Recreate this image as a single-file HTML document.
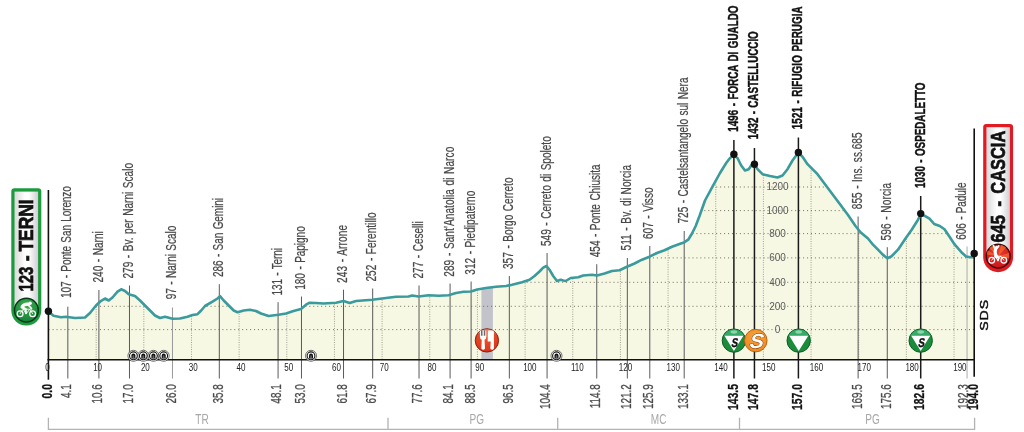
<!DOCTYPE html>
<html lang="it"><head><meta charset="utf-8"><title>Terni - Cascia</title>
<style>html,body{margin:0;padding:0;background:#fff}svg{display:block;font-family:"Liberation Sans",sans-serif;will-change:transform}</style></head><body>
<svg width="1024" height="432" viewBox="0 0 1024 432">
<defs>
<clipPath id="fillclip"><polygon points="48.25,359.75 48.5,311.5 53.5,315.8 61,317.2 66,316.7 75,318 85,317.5 90,313 96,305.5 100,301.7 105,298.5 108.7,300.5 112.5,297.5 117.5,291.7 121.2,289.3 125,291 128.7,294.2 135,296 140,300.5 145,305.5 150,310.5 155,315.5 160,318 165,316.7 172.5,318.7 180,318.5 187.5,316.7 192.5,315 197.5,314.2 201.2,310.5 205,306 212.5,301.7 217.5,298.5 220,296.2 223.7,300.5 228.7,305.5 233.7,310.5 237.5,312.2 243.7,310.5 250,309.7 256,311 261,313.5 268.5,316 278.5,314.7 286,313.5 293.5,311 301,309 306,304.7 309.7,302.7 316,303 323.5,303.5 336,302.7 343.5,301 349.7,303 356,301 372.2,299.7 386,298 396,296.7 408.5,296.5 412.2,295.5 418.5,296.5 428.5,295.2 438.5,295.7 448.5,295.2 456,293 463.5,291.7 471,291.5 477.2,289.5 486,288 496,286.7 506,286 512,284.7 522,282.2 529.5,279.7 534.5,276 539.5,271.5 543.2,267.7 546.5,266 549.5,269.7 553.2,276 557,281 560.7,279.7 563.2,280.5 565.7,281 570.7,278 578.2,277.2 583.2,275.5 592,274.7 597,275.5 604.5,273.5 612,271 619.5,270.2 627,266.7 634.5,263.5 642,259.7 649.5,256.7 657,253 664.5,250.2 672,246.7 679.5,244 684.5,242.2 688.2,239.7 692,233.5 695.7,226 699.5,216 705,200.5 712.5,186.7 720,173 726.2,163 730,158 733.7,155.5 737.5,158 741.2,165.5 745,170.5 748.7,169.2 751.2,165.5 754.5,164.2 757.5,169.2 762.5,174.2 770,176 777.5,177.5 782.5,175.5 787.5,169.2 792.5,160.5 796.2,155.5 798.7,153 802.5,156.7 807.5,164.2 812.5,169.2 817.5,174.2 825,184.2 832.5,194.2 840,204.2 848,215 855.5,226 860.5,232.2 868,238.5 873,244.7 878,249.7 883,254.9 887.3,258.2 891.7,256.2 898,249.7 905.5,238.5 911.7,229.7 918,219.7 920.6,215 924.8,215.8 929.5,218.6 934.2,224 939.8,226 944.5,229.2 949.2,236.2 954.8,244.7 961.4,252.2 966.1,256.5 970.7,257.3 974,257.3 975.1819999999999,359.75"/></clipPath>
<linearGradient id="pillg" x1="0" x2="1" y1="0" y2="0"><stop offset="0" stop-color="#d9d9db"/><stop offset="0.45" stop-color="#ffffff"/><stop offset="0.6" stop-color="#ffffff"/><stop offset="1" stop-color="#cfcfd2"/></linearGradient>
<radialGradient id="gg" cx="0.5" cy="0.3" r="0.7"><stop offset="0" stop-color="#3fae49"/><stop offset="1" stop-color="#15803a"/></radialGradient>
<radialGradient id="rg" cx="0.5" cy="0.3" r="0.7"><stop offset="0" stop-color="#ee5a2e"/><stop offset="1" stop-color="#d9331a"/></radialGradient>
<radialGradient id="og" cx="0.5" cy="0.3" r="0.7"><stop offset="0" stop-color="#f7a03c"/><stop offset="1" stop-color="#f08a1e"/></radialGradient>
<radialGradient id="rg2" cx="0.5" cy="0.3" r="0.7"><stop offset="0" stop-color="#ea3a30"/><stop offset="1" stop-color="#c8161c"/></radialGradient>
</defs>
<rect width="1024" height="432" fill="#fff"/>
<polygon points="48.25,359.75 48.5,311.5 53.5,315.8 61,317.2 66,316.7 75,318 85,317.5 90,313 96,305.5 100,301.7 105,298.5 108.7,300.5 112.5,297.5 117.5,291.7 121.2,289.3 125,291 128.7,294.2 135,296 140,300.5 145,305.5 150,310.5 155,315.5 160,318 165,316.7 172.5,318.7 180,318.5 187.5,316.7 192.5,315 197.5,314.2 201.2,310.5 205,306 212.5,301.7 217.5,298.5 220,296.2 223.7,300.5 228.7,305.5 233.7,310.5 237.5,312.2 243.7,310.5 250,309.7 256,311 261,313.5 268.5,316 278.5,314.7 286,313.5 293.5,311 301,309 306,304.7 309.7,302.7 316,303 323.5,303.5 336,302.7 343.5,301 349.7,303 356,301 372.2,299.7 386,298 396,296.7 408.5,296.5 412.2,295.5 418.5,296.5 428.5,295.2 438.5,295.7 448.5,295.2 456,293 463.5,291.7 471,291.5 477.2,289.5 486,288 496,286.7 506,286 512,284.7 522,282.2 529.5,279.7 534.5,276 539.5,271.5 543.2,267.7 546.5,266 549.5,269.7 553.2,276 557,281 560.7,279.7 563.2,280.5 565.7,281 570.7,278 578.2,277.2 583.2,275.5 592,274.7 597,275.5 604.5,273.5 612,271 619.5,270.2 627,266.7 634.5,263.5 642,259.7 649.5,256.7 657,253 664.5,250.2 672,246.7 679.5,244 684.5,242.2 688.2,239.7 692,233.5 695.7,226 699.5,216 705,200.5 712.5,186.7 720,173 726.2,163 730,158 733.7,155.5 737.5,158 741.2,165.5 745,170.5 748.7,169.2 751.2,165.5 754.5,164.2 757.5,169.2 762.5,174.2 770,176 777.5,177.5 782.5,175.5 787.5,169.2 792.5,160.5 796.2,155.5 798.7,153 802.5,156.7 807.5,164.2 812.5,169.2 817.5,174.2 825,184.2 832.5,194.2 840,204.2 848,215 855.5,226 860.5,232.2 868,238.5 873,244.7 878,249.7 883,254.9 887.3,258.2 891.7,256.2 898,249.7 905.5,238.5 911.7,229.7 918,219.7 920.6,215 924.8,215.8 929.5,218.6 934.2,224 939.8,226 944.5,229.2 949.2,236.2 954.8,244.7 961.4,252.2 966.1,256.5 970.7,257.3 974,257.3 975.1819999999999,359.75" fill="#f6f8e3"/>
<g clip-path="url(#fillclip)">
<rect x="481.4" y="200" width="11.5" height="170" fill="#c3c3cb"/>
<line x1="48.6" x2="975" y1="329.60" y2="329.60" stroke="#66665a" stroke-width="0.9" stroke-dasharray="1.05 2.9"/>
<line x1="48.6" x2="975" y1="306.30" y2="306.30" stroke="#66665a" stroke-width="0.9" stroke-dasharray="1.05 2.9"/>
<line x1="48.6" x2="975" y1="282.30" y2="282.30" stroke="#66665a" stroke-width="0.9" stroke-dasharray="1.05 2.9"/>
<line x1="48.6" x2="975" y1="257.90" y2="257.90" stroke="#66665a" stroke-width="0.9" stroke-dasharray="1.05 2.9"/>
<line x1="48.6" x2="975" y1="233.60" y2="233.60" stroke="#66665a" stroke-width="0.9" stroke-dasharray="1.05 2.9"/>
<line x1="48.6" x2="975" y1="210.60" y2="210.60" stroke="#66665a" stroke-width="0.9" stroke-dasharray="1.05 2.9"/>
<line x1="48.6" x2="975" y1="187.00" y2="187.00" stroke="#66665a" stroke-width="0.9" stroke-dasharray="1.05 2.9"/>
<line x1="96.16" x2="96.16" y1="100" y2="359.75" stroke="#858574" stroke-width="0.8" stroke-dasharray="0.95 1.4"/>
<line x1="143.82" x2="143.82" y1="100" y2="359.75" stroke="#858574" stroke-width="0.8" stroke-dasharray="0.95 1.4"/>
<line x1="191.48" x2="191.48" y1="100" y2="359.75" stroke="#858574" stroke-width="0.8" stroke-dasharray="0.95 1.4"/>
<line x1="239.14" x2="239.14" y1="100" y2="359.75" stroke="#858574" stroke-width="0.8" stroke-dasharray="0.95 1.4"/>
<line x1="286.80" x2="286.80" y1="100" y2="359.75" stroke="#858574" stroke-width="0.8" stroke-dasharray="0.95 1.4"/>
<line x1="334.46" x2="334.46" y1="100" y2="359.75" stroke="#858574" stroke-width="0.8" stroke-dasharray="0.95 1.4"/>
<line x1="382.12" x2="382.12" y1="100" y2="359.75" stroke="#858574" stroke-width="0.8" stroke-dasharray="0.95 1.4"/>
<line x1="429.78" x2="429.78" y1="100" y2="359.75" stroke="#858574" stroke-width="0.8" stroke-dasharray="0.95 1.4"/>
<line x1="477.44" x2="477.44" y1="100" y2="359.75" stroke="#858574" stroke-width="0.8" stroke-dasharray="0.95 1.4"/>
<line x1="525.10" x2="525.10" y1="100" y2="359.75" stroke="#858574" stroke-width="0.8" stroke-dasharray="0.95 1.4"/>
<line x1="572.76" x2="572.76" y1="100" y2="359.75" stroke="#858574" stroke-width="0.8" stroke-dasharray="0.95 1.4"/>
<line x1="620.42" x2="620.42" y1="100" y2="359.75" stroke="#858574" stroke-width="0.8" stroke-dasharray="0.95 1.4"/>
<line x1="668.08" x2="668.08" y1="100" y2="359.75" stroke="#858574" stroke-width="0.8" stroke-dasharray="0.95 1.4"/>
<line x1="715.74" x2="715.74" y1="100" y2="359.75" stroke="#858574" stroke-width="0.8" stroke-dasharray="0.95 1.4"/>
<line x1="763.40" x2="763.40" y1="100" y2="359.75" stroke="#858574" stroke-width="0.8" stroke-dasharray="0.95 1.4"/>
<line x1="811.06" x2="811.06" y1="100" y2="359.75" stroke="#858574" stroke-width="0.8" stroke-dasharray="0.95 1.4"/>
<line x1="858.72" x2="858.72" y1="100" y2="359.75" stroke="#858574" stroke-width="0.8" stroke-dasharray="0.95 1.4"/>
<line x1="906.38" x2="906.38" y1="100" y2="359.75" stroke="#858574" stroke-width="0.8" stroke-dasharray="0.95 1.4"/>
<line x1="954.04" x2="954.04" y1="100" y2="359.75" stroke="#858574" stroke-width="0.8" stroke-dasharray="0.95 1.4"/>
</g>
<text transform="translate(777.5 332.80) scale(1.0 1)" font-size="10" text-anchor="middle" fill="#5c5c5c">0</text>
<text transform="translate(777.5 309.50) scale(1.0 1)" font-size="10" text-anchor="middle" fill="#5c5c5c">200</text>
<text transform="translate(777.5 285.50) scale(1.0 1)" font-size="10" text-anchor="middle" fill="#5c5c5c">400</text>
<text transform="translate(777.5 261.10) scale(1.0 1)" font-size="10" text-anchor="middle" fill="#5c5c5c">600</text>
<text transform="translate(777.5 236.80) scale(1.0 1)" font-size="10" text-anchor="middle" fill="#5c5c5c">800</text>
<text transform="translate(777.5 213.80) scale(1.0 1)" font-size="10" text-anchor="middle" fill="#5c5c5c">1000</text>
<text transform="translate(777.5 190.20) scale(1.0 1)" font-size="10" text-anchor="middle" fill="#5c5c5c">1200</text>
<line x1="67.84" x2="67.84" y1="306.7" y2="378.5" stroke="#5a5a5a" stroke-width="1"/>
<line x1="98.90" x2="98.90" y1="290" y2="378.5" stroke="#5a5a5a" stroke-width="1"/>
<line x1="129.48" x2="129.48" y1="285.5" y2="378.5" stroke="#5a5a5a" stroke-width="1"/>
<line x1="172.48" x2="172.48" y1="307.5" y2="378.5" stroke="#999" stroke-width="1"/>
<line x1="219.30" x2="219.30" y1="284.2" y2="378.5" stroke="#5a5a5a" stroke-width="1"/>
<line x1="278.07" x2="278.07" y1="302.2" y2="378.5" stroke="#5a5a5a" stroke-width="1"/>
<line x1="301.48" x2="301.48" y1="296.5" y2="378.5" stroke="#5a5a5a" stroke-width="1"/>
<line x1="343.53" x2="343.53" y1="289.7" y2="378.5" stroke="#5a5a5a" stroke-width="1"/>
<line x1="372.68" x2="372.68" y1="288.5" y2="378.5" stroke="#5a5a5a" stroke-width="1"/>
<line x1="419.02" x2="419.02" y1="285.5" y2="378.5" stroke="#5a5a5a" stroke-width="1"/>
<line x1="450.08" x2="450.08" y1="283.5" y2="378.5" stroke="#5a5a5a" stroke-width="1"/>
<line x1="471.10" x2="471.10" y1="281.5" y2="378.5" stroke="#5a5a5a" stroke-width="1"/>
<line x1="509.33" x2="509.33" y1="276" y2="378.5" stroke="#5a5a5a" stroke-width="1"/>
<line x1="547.07" x2="547.07" y1="253" y2="378.5" stroke="#5a5a5a" stroke-width="1"/>
<line x1="596.76" x2="596.76" y1="264.2" y2="378.5" stroke="#5a5a5a" stroke-width="1"/>
<line x1="627.34" x2="627.34" y1="258" y2="378.5" stroke="#5a5a5a" stroke-width="1"/>
<line x1="649.80" x2="649.80" y1="246" y2="378.5" stroke="#5a5a5a" stroke-width="1"/>
<line x1="684.20" x2="684.20" y1="231" y2="378.5" stroke="#5a5a5a" stroke-width="1"/>
<line x1="733.89" x2="733.89" y1="140" y2="378.5" stroke="#1a1a1a" stroke-width="1.5"/>
<line x1="754.44" x2="754.44" y1="148" y2="378.5" stroke="#1a1a1a" stroke-width="1.5"/>
<line x1="798.40" x2="798.40" y1="137.5" y2="378.5" stroke="#1a1a1a" stroke-width="1.5"/>
<line x1="858.12" x2="858.12" y1="216.5" y2="378.5" stroke="#5a5a5a" stroke-width="1"/>
<line x1="887.27" x2="887.27" y1="247.2" y2="378.5" stroke="#5a5a5a" stroke-width="1"/>
<line x1="920.71" x2="920.71" y1="196" y2="378.5" stroke="#1a1a1a" stroke-width="1.5"/>
<line x1="967.06" x2="967.06" y1="246.5" y2="378.5" stroke="#aaa" stroke-width="1"/>
<polyline points="48.5,311.5 53.5,315.8 61,317.2 66,316.7 75,318 85,317.5 90,313 96,305.5 100,301.7 105,298.5 108.7,300.5 112.5,297.5 117.5,291.7 121.2,289.3 125,291 128.7,294.2 135,296 140,300.5 145,305.5 150,310.5 155,315.5 160,318 165,316.7 172.5,318.7 180,318.5 187.5,316.7 192.5,315 197.5,314.2 201.2,310.5 205,306 212.5,301.7 217.5,298.5 220,296.2 223.7,300.5 228.7,305.5 233.7,310.5 237.5,312.2 243.7,310.5 250,309.7 256,311 261,313.5 268.5,316 278.5,314.7 286,313.5 293.5,311 301,309 306,304.7 309.7,302.7 316,303 323.5,303.5 336,302.7 343.5,301 349.7,303 356,301 372.2,299.7 386,298 396,296.7 408.5,296.5 412.2,295.5 418.5,296.5 428.5,295.2 438.5,295.7 448.5,295.2 456,293 463.5,291.7 471,291.5 477.2,289.5 486,288 496,286.7 506,286 512,284.7 522,282.2 529.5,279.7 534.5,276 539.5,271.5 543.2,267.7 546.5,266 549.5,269.7 553.2,276 557,281 560.7,279.7 563.2,280.5 565.7,281 570.7,278 578.2,277.2 583.2,275.5 592,274.7 597,275.5 604.5,273.5 612,271 619.5,270.2 627,266.7 634.5,263.5 642,259.7 649.5,256.7 657,253 664.5,250.2 672,246.7 679.5,244 684.5,242.2 688.2,239.7 692,233.5 695.7,226 699.5,216 705,200.5 712.5,186.7 720,173 726.2,163 730,158 733.7,155.5 737.5,158 741.2,165.5 745,170.5 748.7,169.2 751.2,165.5 754.5,164.2 757.5,169.2 762.5,174.2 770,176 777.5,177.5 782.5,175.5 787.5,169.2 792.5,160.5 796.2,155.5 798.7,153 802.5,156.7 807.5,164.2 812.5,169.2 817.5,174.2 825,184.2 832.5,194.2 840,204.2 848,215 855.5,226 860.5,232.2 868,238.5 873,244.7 878,249.7 883,254.9 887.3,258.2 891.7,256.2 898,249.7 905.5,238.5 911.7,229.7 918,219.7 920.6,215 924.8,215.8 929.5,218.6 934.2,224 939.8,226 944.5,229.2 949.2,236.2 954.8,244.7 961.4,252.2 966.1,256.5 970.7,257.3 974,257.3" fill="none" stroke="#3a9a9c" stroke-width="2.6" stroke-linejoin="round" stroke-linecap="round"/>
<line x1="47.5" x2="975" y1="359.75" y2="359.75" stroke="#111" stroke-width="1.3"/>
<line x1="48.4" x2="48.4" y1="190" y2="379.7" stroke="#111" stroke-width="1.6"/>
<line x1="974.2" x2="974.2" y1="128.6" y2="376.8" stroke="#111" stroke-width="1.6"/>
<circle cx="48.4" cy="311.3" r="3.7" fill="#111"/>
<circle cx="974.2" cy="253.5" r="3.7" fill="#111"/>
<circle cx="733.89" cy="154.2" r="3.7" fill="#111"/>
<circle cx="754.44" cy="164.2" r="3.7" fill="#111"/>
<circle cx="798.40" cy="152.5" r="3.7" fill="#111"/>
<circle cx="920.71" cy="213.6" r="3.7" fill="#111"/>
<text transform="translate(45.35 371.4) scale(0.765 1)" font-size="10.5" fill="#222">0</text>
<text transform="translate(93.13 371.4) scale(0.765 1)" font-size="10.5" fill="#222">10</text>
<text transform="translate(140.91 371.4) scale(0.765 1)" font-size="10.5" fill="#222">20</text>
<text transform="translate(188.69 371.4) scale(0.765 1)" font-size="10.5" fill="#222">30</text>
<text transform="translate(236.47 371.4) scale(0.765 1)" font-size="10.5" fill="#222">40</text>
<text transform="translate(284.25 371.4) scale(0.765 1)" font-size="10.5" fill="#222">50</text>
<text transform="translate(332.03 371.4) scale(0.765 1)" font-size="10.5" fill="#222">60</text>
<text transform="translate(379.81 371.4) scale(0.765 1)" font-size="10.5" fill="#222">70</text>
<text transform="translate(427.59 371.4) scale(0.765 1)" font-size="10.5" fill="#222">80</text>
<text transform="translate(475.37 371.4) scale(0.765 1)" font-size="10.5" fill="#222">90</text>
<text transform="translate(523.15 371.4) scale(0.765 1)" font-size="10.5" fill="#222">100</text>
<text transform="translate(570.93 371.4) scale(0.765 1)" font-size="10.5" fill="#222">110</text>
<text transform="translate(618.71 371.4) scale(0.765 1)" font-size="10.5" fill="#222">120</text>
<text transform="translate(666.49 371.4) scale(0.765 1)" font-size="10.5" fill="#222">130</text>
<text transform="translate(714.27 371.4) scale(0.765 1)" font-size="10.5" fill="#222">140</text>
<text transform="translate(762.05 371.4) scale(0.765 1)" font-size="10.5" fill="#222">150</text>
<text transform="translate(809.83 371.4) scale(0.765 1)" font-size="10.5" fill="#222">160</text>
<text transform="translate(857.61 371.4) scale(0.765 1)" font-size="10.5" fill="#222">170</text>
<text transform="translate(905.39 371.4) scale(0.765 1)" font-size="10.5" fill="#222">180</text>
<text transform="translate(953.17 371.4) scale(0.765 1)" font-size="10.5" fill="#222">190</text>
<text transform="translate(71.46 298.00) rotate(-90) scale(0.715 1)" font-size="14.0" text-anchor="start" fill="#484848" word-spacing="1.0" stroke="#484848" stroke-width="0.22" textLength="156.3">107 - Ponte San Lorenzo</text>
<text transform="translate(102.51 282.50) rotate(-90) scale(0.715 1)" font-size="14.0" text-anchor="start" fill="#484848" word-spacing="1.0" stroke="#484848" stroke-width="0.22" textLength="71.7">240 - Narni</text>
<text transform="translate(133.09 278.50) rotate(-90) scale(0.715 1)" font-size="14.0" text-anchor="start" fill="#484848" word-spacing="1.0" stroke="#484848" stroke-width="0.22" textLength="161.5">279 - Bv. per Narni Scalo</text>
<text transform="translate(176.09 299.20) rotate(-90) scale(0.715 1)" font-size="14.0" text-anchor="start" fill="#484848" word-spacing="1.0" stroke="#484848" stroke-width="0.22" textLength="102.7">97 - Narni Scalo</text>
<text transform="translate(222.92 277.00) rotate(-90) scale(0.715 1)" font-size="14.0" text-anchor="start" fill="#484848" word-spacing="1.0" stroke="#484848" stroke-width="0.22" textLength="110.5">286 - San Gemini</text>
<text transform="translate(281.69 295.50) rotate(-90) scale(0.715 1)" font-size="14.0" text-anchor="start" fill="#484848" word-spacing="1.0" stroke="#484848" stroke-width="0.22" textLength="66.4">131 - Terni</text>
<text transform="translate(305.10 289.70) rotate(-90) scale(0.715 1)" font-size="14.0" text-anchor="start" fill="#484848" word-spacing="1.0" stroke="#484848" stroke-width="0.22" textLength="88.7">180 - Papigno</text>
<text transform="translate(347.15 283.00) rotate(-90) scale(0.715 1)" font-size="14.0" text-anchor="start" fill="#484848" word-spacing="1.0" stroke="#484848" stroke-width="0.22" textLength="81.1">243 - Arrone</text>
<text transform="translate(376.29 281.50) rotate(-90) scale(0.715 1)" font-size="14.0" text-anchor="start" fill="#484848" word-spacing="1.0" stroke="#484848" stroke-width="0.22" textLength="96.5">252 - Ferentillo</text>
<text transform="translate(422.64 278.50) rotate(-90) scale(0.715 1)" font-size="14.0" text-anchor="start" fill="#484848" word-spacing="1.0" stroke="#484848" stroke-width="0.22" textLength="80.1">277 - Ceselli</text>
<text transform="translate(453.70 276.70) rotate(-90) scale(0.715 1)" font-size="14.0" text-anchor="start" fill="#484848" word-spacing="1.0" stroke="#484848" stroke-width="0.22" textLength="181.7">289 - Sant'Anatolia di Narco</text>
<text transform="translate(474.72 274.70) rotate(-90) scale(0.715 1)" font-size="14.0" text-anchor="start" fill="#484848" word-spacing="1.0" stroke="#484848" stroke-width="0.22" textLength="117.4">312 - Piedipaterno</text>
<text transform="translate(512.94 269.00) rotate(-90) scale(0.715 1)" font-size="14.0" text-anchor="start" fill="#484848" word-spacing="1.0" stroke="#484848" stroke-width="0.22" textLength="128.0">357 - Borgo Cerreto</text>
<text transform="translate(550.69 246.00) rotate(-90) scale(0.715 1)" font-size="14.0" text-anchor="start" fill="#484848" word-spacing="1.0" stroke="#484848" stroke-width="0.22" textLength="153.5">549 - Cerreto di Spoleto</text>
<text transform="translate(600.38 257.20) rotate(-90) scale(0.715 1)" font-size="14.0" text-anchor="start" fill="#484848" word-spacing="1.0" stroke="#484848" stroke-width="0.22" textLength="129.7">454 - Ponte Chiusita</text>
<text transform="translate(630.96 250.50) rotate(-90) scale(0.715 1)" font-size="14.0" text-anchor="start" fill="#484848" word-spacing="1.0" stroke="#484848" stroke-width="0.22" textLength="119.6">511 - Bv. di Norcia</text>
<text transform="translate(653.42 239.00) rotate(-90) scale(0.715 1)" font-size="14.0" text-anchor="start" fill="#484848" word-spacing="1.0" stroke="#484848" stroke-width="0.22" textLength="72.0">607 - Visso</text>
<text transform="translate(687.82 223.50) rotate(-90) scale(0.715 1)" font-size="14.0" text-anchor="start" fill="#484848" word-spacing="1.0" stroke="#484848" stroke-width="0.22" textLength="204.2">725 - Castelsantangelo sul Nera</text>
<text transform="translate(737.81 131.70) rotate(-90) scale(0.675 1)" font-size="14.6" text-anchor="start" fill="#111" font-weight="bold" word-spacing="1.0" stroke="#111" stroke-width="0.42" textLength="187.0">1496 - FORCA DI GUALDO</text>
<text transform="translate(758.35 139.20) rotate(-90) scale(0.675 1)" font-size="14.6" text-anchor="start" fill="#111" font-weight="bold" word-spacing="1.0" stroke="#111" stroke-width="0.42" textLength="159.9">1432 - CASTELLUCCIO</text>
<text transform="translate(802.31 129.20) rotate(-90) scale(0.675 1)" font-size="14.6" text-anchor="start" fill="#111" font-weight="bold" word-spacing="1.0" stroke="#111" stroke-width="0.42" textLength="182.1">1521 - RIFUGIO PERUGIA</text>
<text transform="translate(861.74 209.20) rotate(-90) scale(0.715 1)" font-size="14.0" text-anchor="start" fill="#484848" word-spacing="1.0" stroke="#484848" stroke-width="0.22" textLength="107.3">855 - Ins. ss.685</text>
<text transform="translate(890.88 240.50) rotate(-90) scale(0.715 1)" font-size="14.0" text-anchor="start" fill="#484848" word-spacing="1.0" stroke="#484848" stroke-width="0.22" textLength="80.4">596 - Norcia</text>
<text transform="translate(924.63 188.00) rotate(-90) scale(0.675 1)" font-size="14.6" text-anchor="start" fill="#111" font-weight="bold" word-spacing="1.0" stroke="#111" stroke-width="0.42" textLength="156.3">1030 - OSPEDALETTO</text>
<text transform="translate(966.48 239.70) rotate(-90) scale(0.715 1)" font-size="14.0" text-anchor="start" fill="#484848" word-spacing="1.0" stroke="#484848" stroke-width="0.22" textLength="80.0">606 - Padule</text>
<text transform="translate(51.95 384.00) rotate(-90) scale(0.69 1)" font-size="15" text-anchor="end" fill="#111" font-weight="bold" stroke="#111" stroke-width="0.3">0.0</text>
<text transform="translate(71.24 384.20) rotate(-90) scale(0.68 1)" font-size="14.6" text-anchor="end" fill="#4a4a4a" stroke="#4a4a4a" stroke-width="0.3">4.1</text>
<text transform="translate(102.30 384.20) rotate(-90) scale(0.68 1)" font-size="14.6" text-anchor="end" fill="#4a4a4a" stroke="#4a4a4a" stroke-width="0.3">10.6</text>
<text transform="translate(132.88 384.20) rotate(-90) scale(0.68 1)" font-size="14.6" text-anchor="end" fill="#4a4a4a" stroke="#4a4a4a" stroke-width="0.3">17.0</text>
<text transform="translate(175.88 384.20) rotate(-90) scale(0.68 1)" font-size="14.6" text-anchor="end" fill="#4a4a4a" stroke="#4a4a4a" stroke-width="0.3">26.0</text>
<text transform="translate(222.70 384.20) rotate(-90) scale(0.68 1)" font-size="14.6" text-anchor="end" fill="#4a4a4a" stroke="#4a4a4a" stroke-width="0.3">35.8</text>
<text transform="translate(281.47 384.20) rotate(-90) scale(0.68 1)" font-size="14.6" text-anchor="end" fill="#4a4a4a" stroke="#4a4a4a" stroke-width="0.3">48.1</text>
<text transform="translate(304.88 384.20) rotate(-90) scale(0.68 1)" font-size="14.6" text-anchor="end" fill="#4a4a4a" stroke="#4a4a4a" stroke-width="0.3">53.0</text>
<text transform="translate(346.93 384.20) rotate(-90) scale(0.68 1)" font-size="14.6" text-anchor="end" fill="#4a4a4a" stroke="#4a4a4a" stroke-width="0.3">61.8</text>
<text transform="translate(376.08 384.20) rotate(-90) scale(0.68 1)" font-size="14.6" text-anchor="end" fill="#4a4a4a" stroke="#4a4a4a" stroke-width="0.3">67.9</text>
<text transform="translate(422.42 384.20) rotate(-90) scale(0.68 1)" font-size="14.6" text-anchor="end" fill="#4a4a4a" stroke="#4a4a4a" stroke-width="0.3">77.6</text>
<text transform="translate(453.48 384.20) rotate(-90) scale(0.68 1)" font-size="14.6" text-anchor="end" fill="#4a4a4a" stroke="#4a4a4a" stroke-width="0.3">84.1</text>
<text transform="translate(474.50 384.20) rotate(-90) scale(0.68 1)" font-size="14.6" text-anchor="end" fill="#4a4a4a" stroke="#4a4a4a" stroke-width="0.3">88.5</text>
<text transform="translate(512.73 384.20) rotate(-90) scale(0.68 1)" font-size="14.6" text-anchor="end" fill="#4a4a4a" stroke="#4a4a4a" stroke-width="0.3">96.5</text>
<text transform="translate(550.47 384.20) rotate(-90) scale(0.68 1)" font-size="14.6" text-anchor="end" fill="#4a4a4a" stroke="#4a4a4a" stroke-width="0.3">104.4</text>
<text transform="translate(600.16 384.20) rotate(-90) scale(0.68 1)" font-size="14.6" text-anchor="end" fill="#4a4a4a" stroke="#4a4a4a" stroke-width="0.3">114.8</text>
<text transform="translate(630.74 384.20) rotate(-90) scale(0.68 1)" font-size="14.6" text-anchor="end" fill="#4a4a4a" stroke="#4a4a4a" stroke-width="0.3">121.2</text>
<text transform="translate(653.20 384.20) rotate(-90) scale(0.68 1)" font-size="14.6" text-anchor="end" fill="#4a4a4a" stroke="#4a4a4a" stroke-width="0.3">125.9</text>
<text transform="translate(687.60 384.20) rotate(-90) scale(0.68 1)" font-size="14.6" text-anchor="end" fill="#4a4a4a" stroke="#4a4a4a" stroke-width="0.3">133.1</text>
<text transform="translate(737.59 384.00) rotate(-90) scale(0.69 1)" font-size="15" text-anchor="end" fill="#111" font-weight="bold" stroke="#111" stroke-width="0.3">143.5</text>
<text transform="translate(758.14 384.00) rotate(-90) scale(0.69 1)" font-size="15" text-anchor="end" fill="#111" font-weight="bold" stroke="#111" stroke-width="0.3">147.8</text>
<text transform="translate(802.10 384.00) rotate(-90) scale(0.69 1)" font-size="15" text-anchor="end" fill="#111" font-weight="bold" stroke="#111" stroke-width="0.3">157.0</text>
<text transform="translate(861.52 384.20) rotate(-90) scale(0.68 1)" font-size="14.6" text-anchor="end" fill="#4a4a4a" stroke="#4a4a4a" stroke-width="0.3">169.5</text>
<text transform="translate(890.67 384.20) rotate(-90) scale(0.68 1)" font-size="14.6" text-anchor="end" fill="#4a4a4a" stroke="#4a4a4a" stroke-width="0.3">175.6</text>
<text transform="translate(924.41 384.00) rotate(-90) scale(0.69 1)" font-size="15" text-anchor="end" fill="#111" font-weight="bold" stroke="#111" stroke-width="0.3">182.6</text>
<text transform="translate(967.56 384.20) rotate(-90) scale(0.68 1)" font-size="14.6" text-anchor="end" fill="#4a4a4a" stroke="#4a4a4a" stroke-width="0.3">192.3</text>
<text transform="translate(978.08 384.00) rotate(-90) scale(0.69 1)" font-size="15" text-anchor="end" fill="#111" font-weight="bold" stroke="#111" stroke-width="0.3">194.0</text>
<path d="M48.4 417.7V429.3H974.6V417.7M388 417.7V429.3M557.7 417.7V429.3M739.5 417.7V429.3" fill="none" stroke="#b3b3b3" stroke-width="1.3"/>
<text transform="translate(202 424.4) scale(0.72 1)" font-size="14" text-anchor="middle" fill="#a8a8a8">TR</text>
<text transform="translate(476.7 424.4) scale(0.72 1)" font-size="14" text-anchor="middle" fill="#a8a8a8">PG</text>
<text transform="translate(658.7 424.4) scale(0.72 1)" font-size="14" text-anchor="middle" fill="#a8a8a8">MC</text>
<text transform="translate(872.5 424.4) scale(0.72 1)" font-size="14" text-anchor="middle" fill="#a8a8a8">PG</text>
<g transform="translate(133.4 355.8)"><circle r="5.5" fill="#fff" stroke="#333" stroke-width="0.7"/><circle r="3.9" fill="#fff" stroke="#111" stroke-width="1.1"/><path d="M-2 2.7V-0.3A2 2 0 0 1 2 -0.3V2.7Z" fill="#111"/><path d="M-0.8 2.7V0.2A0.8 0.8 0 0 1 0.8 0.2V2.7Z" fill="#666"/></g>
<g transform="translate(143.3 355.8)"><circle r="5.5" fill="#fff" stroke="#333" stroke-width="0.7"/><circle r="3.9" fill="#fff" stroke="#111" stroke-width="1.1"/><path d="M-2 2.7V-0.3A2 2 0 0 1 2 -0.3V2.7Z" fill="#111"/><path d="M-0.8 2.7V0.2A0.8 0.8 0 0 1 0.8 0.2V2.7Z" fill="#666"/></g>
<g transform="translate(153.4 355.8)"><circle r="5.5" fill="#fff" stroke="#333" stroke-width="0.7"/><circle r="3.9" fill="#fff" stroke="#111" stroke-width="1.1"/><path d="M-2 2.7V-0.3A2 2 0 0 1 2 -0.3V2.7Z" fill="#111"/><path d="M-0.8 2.7V0.2A0.8 0.8 0 0 1 0.8 0.2V2.7Z" fill="#666"/></g>
<g transform="translate(163.7 355.8)"><circle r="5.5" fill="#fff" stroke="#333" stroke-width="0.7"/><circle r="3.9" fill="#fff" stroke="#111" stroke-width="1.1"/><path d="M-2 2.7V-0.3A2 2 0 0 1 2 -0.3V2.7Z" fill="#111"/><path d="M-0.8 2.7V0.2A0.8 0.8 0 0 1 0.8 0.2V2.7Z" fill="#666"/></g>
<g transform="translate(311 355.8)"><circle r="5.5" fill="#fff" stroke="#333" stroke-width="0.7"/><circle r="3.9" fill="#fff" stroke="#111" stroke-width="1.1"/><path d="M-2 2.7V-0.3A2 2 0 0 1 2 -0.3V2.7Z" fill="#111"/><path d="M-0.8 2.7V0.2A0.8 0.8 0 0 1 0.8 0.2V2.7Z" fill="#666"/></g>
<g transform="translate(556.5 355.8)"><circle r="5.5" fill="#fff" stroke="#333" stroke-width="0.7"/><circle r="3.9" fill="#fff" stroke="#111" stroke-width="1.1"/><path d="M-2 2.7V-0.3A2 2 0 0 1 2 -0.3V2.7Z" fill="#111"/><path d="M-0.8 2.7V0.2A0.8 0.8 0 0 1 0.8 0.2V2.7Z" fill="#666"/></g>
<g transform="translate(486.9 340.4)"><circle r="11.7" fill="url(#rg)" stroke="#7d1c10" stroke-width="0.9"/><path d="M-9.6 -5.8A11.2 11.2 0 0 1 9.6 -5.8A14 14 0 0 0 -9.6 -5.8Z" fill="#fff" opacity="0.35"/><path d="M-7 -9.4Q-7 -10 -6.4 -10H-1.1Q-0.5 -10 -0.5 -9.4V-4Q-0.5 -1.6 -2.4 -0.6L-1.9 7.9Q-1.9 9.3 -3.75 9.3Q-5.6 9.3 -5.6 7.9L-5.1 -0.6Q-7 -1.6 -7 -4Z" fill="#fff"/><path d="M-5.9 -10.2H-4.4V-4.6H-5.9ZM-3.1 -10.2H-1.6V-4.6H-3.1Z" fill="#6b6b6b"/><path d="M0.8 -9Q0.8 -10 2 -10H5.5Q7 -10 7 -8.5V7.9Q7 9.3 5.2 9.3Q3.4 9.3 3.4 7.9L3.8 1H0.8Z" fill="#fff"/></g>
<clipPath id="capclip"><rect x="-13" y="-13" width="26" height="8.1"/></clipPath>
<g transform="translate(733.9 340.6)"><circle r="11.7" fill="#1b8c3b" stroke="#0b5a26" stroke-width="1"/><circle r="11.2" fill="#36aa68" clip-path="url(#capclip)"/><ellipse cx="0" cy="-8.6" rx="3.3" ry="1.7" fill="#9fdcb6" opacity="0.85"/><path d="M-9.5 -4.9H9.5L0 10.5Z" fill="#fff"/><text transform="translate(0.2 6.4) skewX(-10) scale(0.76 1)" font-size="12.6" font-weight="bold" text-anchor="middle" fill="#111" stroke="#111" stroke-width="0.4">S</text></g>
<g transform="translate(755.8 340.6)"><circle r="11.3" fill="url(#og)" stroke="#b35c12" stroke-width="0.9"/><text transform="translate(-0.3 7.4) skewX(-14) scale(1.02 1)" font-size="20.5" font-weight="bold" text-anchor="middle" fill="#fff" stroke="#6e3708" stroke-width="0.9" paint-order="stroke">S</text></g>
<g transform="translate(798.7 340.6)"><circle r="11.7" fill="#1b8c3b" stroke="#0b5a26" stroke-width="1"/><circle r="11.2" fill="#36aa68" clip-path="url(#capclip)"/><ellipse cx="0" cy="-8.6" rx="3.3" ry="1.7" fill="#9fdcb6" opacity="0.85"/><path d="M-9.5 -4.9H9.5L0 10.5Z" fill="#fff"/></g>
<g transform="translate(920.7 340.6)"><circle r="11.7" fill="#1b8c3b" stroke="#0b5a26" stroke-width="1"/><circle r="11.2" fill="#36aa68" clip-path="url(#capclip)"/><ellipse cx="0" cy="-8.6" rx="3.3" ry="1.7" fill="#9fdcb6" opacity="0.85"/><path d="M-9.5 -4.9H9.5L0 10.5Z" fill="#fff"/><text transform="translate(0.2 6.4) skewX(-10) scale(0.76 1)" font-size="12.6" font-weight="bold" text-anchor="middle" fill="#111" stroke="#111" stroke-width="0.4">S</text></g>
<text transform="translate(987.5 330.8) rotate(-90) scale(1.22 1)" font-size="11.6" fill="#111" stroke="#111" stroke-width="0.45" letter-spacing="0.8">SDS</text>
<path d="M14.5 188.3H38.099999999999994A3.2 3.2 0 0 1 41.3 191.5V310.59999999999997A14.999999999999998 14.999999999999998 0 0 1 11.3 310.59999999999997V191.5A3.2 3.2 0 0 1 14.5 188.3Z" fill="#1d9a3c"/><rect x="14.5" y="191.60000000000002" width="23.599999999999994" height="115.89999999999998" fill="url(#pillg)"/><circle cx="26.4" cy="310.2" r="11.9" fill="url(#gg)" stroke="#06351a" stroke-width="1.4"/>
<g transform="translate(26.5 310.4)" fill="none" stroke="#fff" stroke-linecap="round" stroke-linejoin="round"><circle cx="-6.4" cy="3.3" r="2.9" stroke-width="1.25"/><circle cx="6.1" cy="3.3" r="2.9" stroke-width="1.25"/><path d="M-6.4 3.3L-3.4 -1.2H3.4L6.1 3.3M-3.4 -1.2L-0.4 3.3L3.4 -1.2" stroke-width="0.9"/><path d="M-4.4 -3.4Q-2.6 -6.6 1.6 -6.2" stroke-width="3.3"/><path d="M1.6 -5.6L3.6 -3.6L5.0 -1.6" stroke-width="1.7"/><path d="M-4.0 -3.0L-0.9 -1.4L-0.5 2.8" stroke-width="2.0"/><circle cx="3.6" cy="-7.2" r="1.75" fill="#fff" stroke="none"/></g>
<text transform="translate(33.1 292.0) rotate(-90)" font-size="20.5" font-weight="bold" fill="#111" stroke="#111" stroke-width="0.7" lengthAdjust="spacingAndGlyphs"><tspan x="0.6" textLength="24.6" lengthAdjust="spacingAndGlyphs">123</tspan> <tspan x="31.0" textLength="5.6" lengthAdjust="spacingAndGlyphs">-</tspan> <tspan x="40.4" textLength="52.2" lengthAdjust="spacingAndGlyphs">TERNI</tspan></text>
<path d="M986.4000000000001 123.9H1009.9A3.2 3.2 0 0 1 1013.1 127.10000000000001V257.3A14.949999999999989 14.949999999999989 0 0 1 983.2 257.3V127.10000000000001A3.2 3.2 0 0 1 986.4000000000001 123.9Z" fill="#e01b22"/><rect x="986.4000000000001" y="127.2" width="23.49999999999998" height="126.29999999999998" fill="url(#pillg)"/><circle cx="998.2" cy="256.2" r="11.9" fill="url(#rg2)" stroke="#3a0808" stroke-width="1.4"/>
<g transform="translate(998.1 256.2)" fill="none" stroke="#fff" stroke-linecap="round" stroke-linejoin="round"><path d="M0 0L-9 -8.2L-4.5 -11.3ZM0 0L3 -11.6L8 -8.6ZM0 0L10.8 -3.2L11.2 2ZM0 0L-11.4 -1.6L-10.4 -5.6Z" fill="#f26a2c" stroke="none" opacity="0.75"/><circle cx="-6.3" cy="4.0" r="2.8" stroke-width="1.25"/><circle cx="5.7" cy="4.0" r="2.8" stroke-width="1.25"/><path d="M-6.3 4L-3.2 0H2.8L5.7 4M-3.2 0L-0.4 4L2.8 0" stroke-width="0.9"/><path d="M-1.6 0.4Q-3.6 -3 -2.6 -6.4" stroke-width="3.2"/><path d="M-2.8 -6.2L-4.6 -10.6M-2.2 -6.4L0.6 -10.2" stroke-width="1.7"/><path d="M-1.8 -0.2L0.6 1.2L-0.2 4.2" stroke-width="1.9"/><circle cx="-1.5" cy="-8.9" r="1.6" fill="#fff" stroke="none"/></g>
<text transform="translate(1005.1 242.9) rotate(-90)" font-size="20.5" font-weight="bold" fill="#111" stroke="#111" stroke-width="0.7" lengthAdjust="spacingAndGlyphs"><tspan x="0.4" textLength="27.4" lengthAdjust="spacingAndGlyphs">645</tspan> <tspan x="36.4" textLength="5.6" lengthAdjust="spacingAndGlyphs">-</tspan> <tspan x="49.2" textLength="63.0" lengthAdjust="spacingAndGlyphs">CASCIA</tspan></text>
</svg></body></html>
